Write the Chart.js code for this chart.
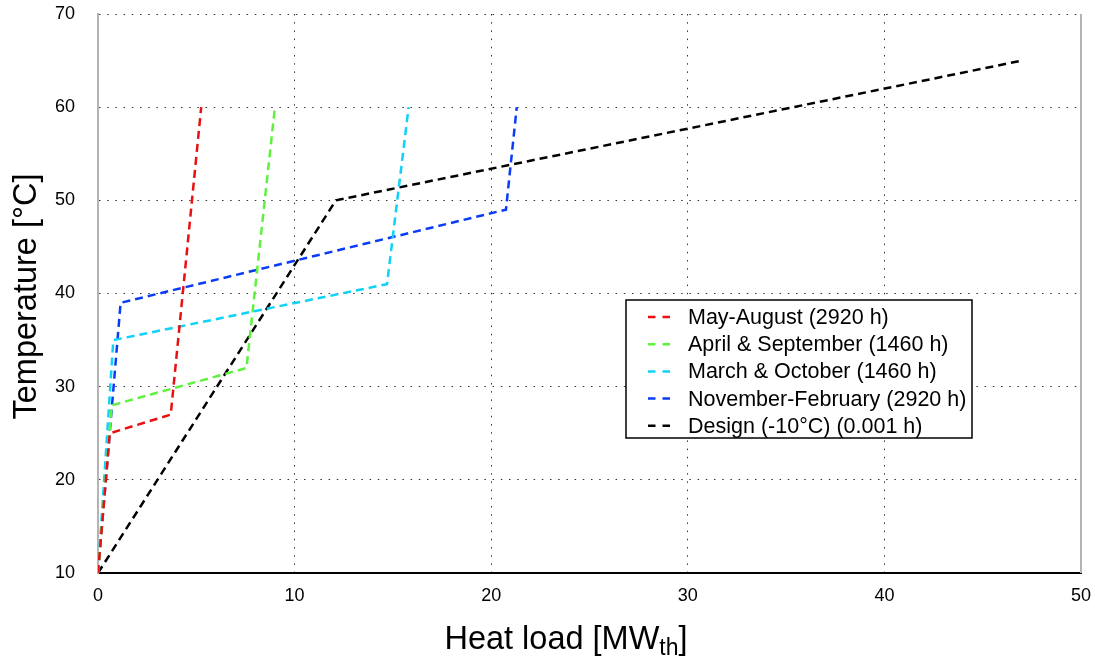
<!DOCTYPE html>
<html><head><meta charset="utf-8">
<script src="https://cdn.jsdelivr.net/npm/chart.js@4.4.1/dist/chart.umd.min.js"></script>
<style>html,body{margin:0;padding:0;background:#fff;}canvas{display:block}</style>
</head><body>
<canvas id="c" width="1095" height="657"></canvas>
<script>
// ---- data ----
const seriesLabels = [
  'May-August (2920 h)',
  'April & September (1460 h)',
  'March & October (1460 h)',
  'November-February (2920 h)',
  'Design (-10°C) (0.001 h)'
];
const seriesColors = ['#e81010', '#5ef23e', '#0fd2f7', '#0a3cf7', '#000000'];

const mayAugLoad = [0, 0.6, 3.7, 5.25];
const mayAugTemp = [10, 25, 27, 60];
const aprSepLoad = [0, 0.7, 7.55, 9.0];
const aprSepTemp = [10, 28, 32, 60];
const marOctLoad = [0, 0.78, 14.7, 15.8];
const marOctTemp = [10, 35, 41, 60];
const novFebLoad = [0, 1.15, 20.75, 21.3];
const novFebTemp = [10, 39, 49, 60];
const designLoad = [0, 12.1, 47];
const designTemp = [10, 50, 65];

const xTickValues = [0, 10, 20, 30, 40, 50];
const yTickValues = [10, 20, 30, 40, 50, 60, 70];

const yTitleText = 'Temperature [°C]';
const xTitleMain = 'Heat load [MW';
const xTitleSub = 'th';
const xTitleEnd = ']';

// ---- build ----
const loads = [mayAugLoad, aprSepLoad, marOctLoad, novFebLoad, designLoad];
const temps = [mayAugTemp, aprSepTemp, marOctTemp, novFebTemp, designTemp];
const FONT = '"Liberation Sans", Arial, Helvetica, sans-serif';

const datasets = seriesLabels.map((lab, i) => ({
  label: lab,
  data: loads[i].map((x, j) => ({x: x, y: temps[i][j]})),
  borderColor: seriesColors[i],
  backgroundColor: seriesColors[i],
  borderWidth: 2.5,
  borderDash: [8, 5],
  pointRadius: 0,
  showLine: true,
  fill: false,
  tension: 0
}));

const decorPlugin = {
  id: 'decor',
  afterDraw(chart) {
    const ctx = chart.ctx;
    const a = chart.chartArea;
    ctx.save();
    // right frame line
    ctx.strokeStyle = '#b4b4b4';
    ctx.lineWidth = 2;
    ctx.beginPath();
    ctx.moveTo(a.right, a.top);
    ctx.lineTo(a.right, a.bottom);
    ctx.stroke();

    // y title
    ctx.fillStyle = '#000';
    ctx.font = '32.5px ' + FONT;
    ctx.save();
    ctx.translate(36, 296.5);
    ctx.rotate(-Math.PI / 2);
    ctx.textAlign = 'center';
    ctx.textBaseline = 'alphabetic';
    ctx.fillText(yTitleText, 0, 0);
    ctx.restore();

    // x title with subscript
    ctx.textAlign = 'left';
    ctx.textBaseline = 'alphabetic';
    ctx.font = '32.5px ' + FONT;
    const w1 = ctx.measureText(xTitleMain).width;
    const w3 = ctx.measureText(xTitleEnd).width;
    ctx.font = '23px ' + FONT;
    const w2 = ctx.measureText(xTitleSub).width;
    let x0 = 566 - (w1 + w2 + w3) / 2;
    ctx.font = '32.5px ' + FONT;
    ctx.fillText(xTitleMain, x0, 649);
    ctx.font = '23px ' + FONT;
    ctx.fillText(xTitleSub, x0 + w1, 655);
    ctx.font = '32.5px ' + FONT;
    ctx.fillText(xTitleEnd, x0 + w1 + w2, 649);

    // legend
    const lx = 626, ly = 300, lw = 346, lh = 138;
    ctx.fillStyle = '#fff';
    ctx.fillRect(lx, ly, lw, lh);
    ctx.strokeStyle = '#000';
    ctx.lineWidth = 1.5;
    ctx.strokeRect(lx, ly, lw, lh);
    ctx.font = '21.5px ' + FONT;
    ctx.textBaseline = 'middle';
    chart.data.datasets.forEach((ds, i) => {
      const cy = 317 + i * 27.2;
      ctx.strokeStyle = ds.borderColor;
      ctx.lineWidth = 2.5;
      ctx.setLineDash([7.5, 7]);
      ctx.beginPath();
      ctx.moveTo(648, cy);
      ctx.lineTo(671, cy);
      ctx.stroke();
      ctx.setLineDash([]);
      ctx.fillStyle = '#000';
      ctx.fillText(ds.label, 688, cy + 1);
    });
    ctx.restore();
  }
};

new Chart(document.getElementById('c'), {
  type: 'scatter',
  data: { datasets: datasets },
  options: {
    responsive: false,
    animation: false,
    devicePixelRatio: 1,
    layout: { padding: { left: 0, right: 14, top: 14, bottom: 0 } },
    plugins: { legend: { display: false }, tooltip: { enabled: false } },
    scales: {
      x: {
        type: 'linear', min: 0, max: 50,
        afterBuildTicks: s => { s.ticks = xTickValues.map(v => ({value: v})); },
        afterFit: s => { s.height = 84; },
        grid: { color: '#333', lineWidth: 1, drawTicks: true, tickLength: 12, tickColor: 'rgba(0,0,0,0)' },
        border: { display: true, color: '#000', width: 2, dash: [1.5, 6.7] },
        ticks: { autoSkip: false, maxRotation: 0, padding: 0, color: '#000', font: { family: FONT, size: 18 } }
      },
      y: {
        type: 'linear', min: 10, max: 70,
        afterBuildTicks: s => { s.ticks = yTickValues.map(v => ({value: v})); },
        afterFit: s => { s.width = 98; },
        grid: { color: '#333', lineWidth: 1, drawTicks: true, tickLength: 23, tickColor: 'rgba(0,0,0,0)' },
        border: { display: true, color: '#b4b4b4', width: 2, dash: [1.5, 6.7] },
        ticks: { autoSkip: false, padding: 0, color: '#000', font: { family: FONT, size: 18 } }
      }
    }
  },
  plugins: [decorPlugin]
});
</script>
</body></html>
